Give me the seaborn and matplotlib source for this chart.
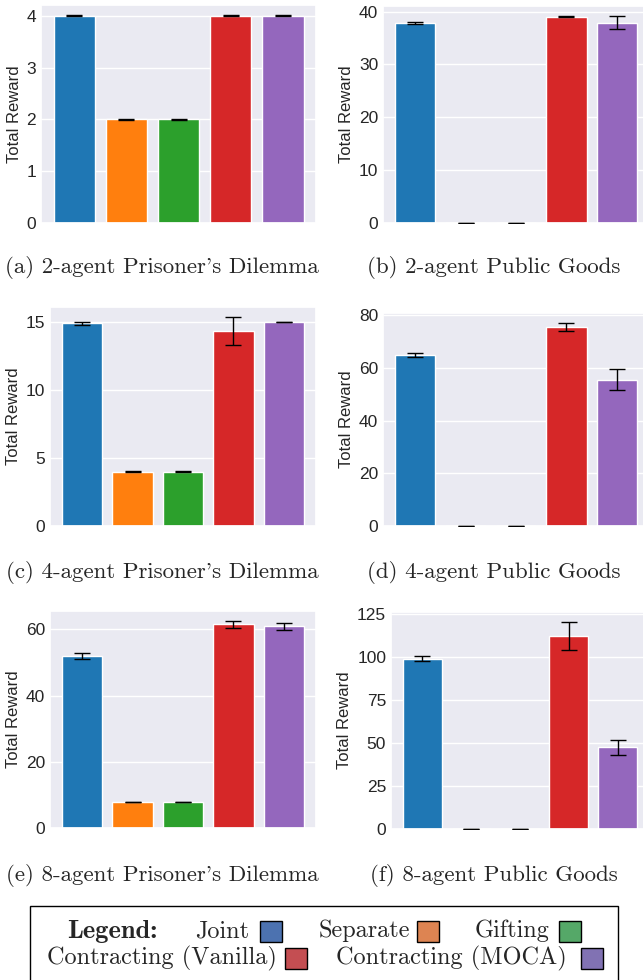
import matplotlib
matplotlib.use("Agg")
import matplotlib.pyplot as plt
from matplotlib.patches import Rectangle
import pandas as pd
import seaborn as sns

# Methods compared in every environment
methods = ["Joint", "Separate", "Gifting", "Contracting (Vanilla)", "Contracting (MOCA)"]
bar_colors = ["#1f77b4", "#ff7f0e", "#2ca02c", "#d62728", "#9467bd"]

# Mean total reward and error per method
pd2_mean = [4.0, 2.0, 2.0, 4.0, 4.0]
pd2_err = [0.01, 0.01, 0.01, 0.01, 0.01]
pg2_mean = [37.9, 0.0, 0.0, 39.0, 37.9]
pg2_err = [0.2, 0.0, 0.0, 0.1, 1.2]
pd4_mean = [14.9, 4.0, 4.0, 14.3, 15.0]
pd4_err = [0.1, 0.02, 0.02, 1.03, 0.02]
pg4_mean = [65.0, 0.0, 0.0, 75.5, 55.6]
pg4_err = [0.75, 0.0, 0.0, 1.5, 4.0]
pd8_mean = [52.0, 7.8, 7.8, 61.5, 60.9]
pd8_err = [0.85, 0.05, 0.05, 0.95, 1.0]
pg8_mean = [98.9, 0.0, 0.0, 111.8, 47.3]
pg8_err = [1.3, 0.0, 0.0, 8.1, 4.6]

captions = [
    "(a) 2-agent Prisoner's Dilemma",
    "(b) 2-agent Public Goods",
    "(c) 4-agent Prisoner's Dilemma",
    "(d) 4-agent Public Goods",
    "(e) 8-agent Prisoner's Dilemma",
    "(f) 8-agent Public Goods",
]

panels = [
    (pd2_mean, pd2_err), (pg2_mean, pg2_err),
    (pd4_mean, pd4_err), (pg4_mean, pg4_err),
    (pd8_mean, pd8_err), (pg8_mean, pg8_err),
]

sns.set_theme(style="darkgrid")
plt.rcParams["font.family"] = "sans-serif"
plt.rcParams["font.sans-serif"] = ["Liberation Sans"]

W, H = 643, 980
fig = plt.figure(figsize=(W / 100, H / 100), dpi=100)

# axes boxes in pixels: left, right, top, bottom
boxes = [
    (41, 316, 5, 223), (383, 649, 6, 223),
    (50, 316, 307, 526), (383, 649, 313, 526),
    (50, 316, 611, 828), (391, 649, 612, 829),
]
caption_pos = [(162, 267), (494, 267), (162, 573), (494, 572), (162, 875), (494, 875)]

for (mean, err), (l, r, t, b), cap, (cx, cy) in zip(panels, boxes, captions, caption_pos):
    ax = fig.add_axes([l / W, 1 - b / H, (r - l) / W, (b - t) / H])
    df = pd.DataFrame({"method": methods, "reward": mean})
    sns.barplot(data=df, x="method", y="reward", hue="method",
                palette=bar_colors, saturation=1, errorbar=None,
                legend=False, ax=ax)
    ax.errorbar(range(len(methods)), mean, yerr=err, fmt="none",
                ecolor="black", elinewidth=1.0, capsize=6, capthick=1.0, zorder=5)
    ax.set_xlim(-0.64, 4.64)
    ax.autoscale(axis="y")
    ax.set_ylim(bottom=0)
    ax.set_xticklabels([])
    ax.set_xlabel("")
    ax.set_ylabel("Total Reward", fontsize=12, labelpad=3.5)
    ax.tick_params(axis="both", length=0, pad=3.5)
    ax.tick_params(axis="y", labelsize=12.5)
    fig.text(cx / W, 1 - cy / H, cap, family="cmr10", fontsize=16.5,
             ha="center", va="center")

# legend panel
box = Rectangle((30 / W, 1 - 990 / H), (618 - 30) / W, (990 - 906) / H,
                transform=fig.transFigure, facecolor="white", edgecolor="black",
                linewidth=1.0, clip_on=False)
fig.patches.append(box)

swatch_colors = sns.color_palette("deep")[:5]
fig.text(67 / W, 1 - 931 / H, "Legend:", family="cmb10", fontsize=19,
         ha="left", va="center")
legend_items = [
    ("Joint", 249, 260, 931),
    ("Separate", 410, 417, 931),
    ("Gifting", 550, 559, 931),
    ("Contracting (Vanilla)", 277, 285, 958),
    ("Contracting (MOCA)", 567, 581, 958),
]
for (label, text_right, sw_left, yc), col in zip(legend_items, swatch_colors):
    fig.text(text_right / W, 1 - yc / H, label, family="cmr10", fontsize=17.5,
             ha="right", va="center")
    fig.patches.append(Rectangle((sw_left / W, 1 - (yc + 11) / H), 22 / W, 21 / H,
                                 transform=fig.transFigure, facecolor=col,
                                 edgecolor="black", linewidth=1.0))

fig.savefig("out.png", dpi=100)
